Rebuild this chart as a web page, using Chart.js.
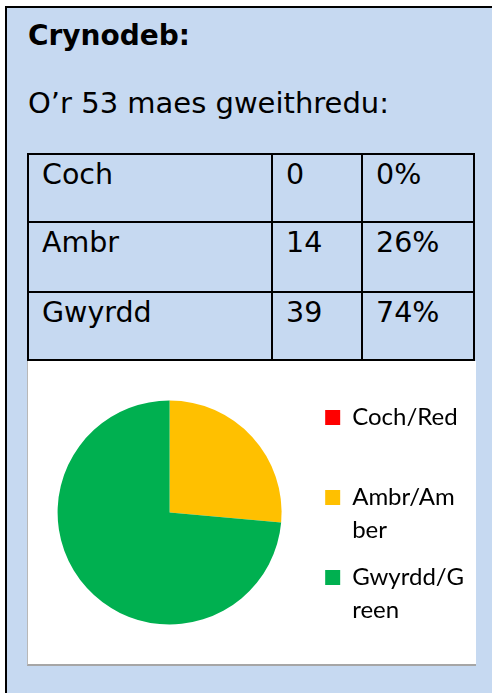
<!DOCTYPE html>
<html>
<head>
<meta charset="utf-8">
<script src="https://cdn.jsdelivr.net/npm/chart.js@4"></script>
<style>
  html, body { margin: 0; padding: 0; background: #fff; overflow: hidden; }
  body { width: 492px; height: 693px; position: relative; font-family: "DejaVu Sans", Verdana, sans-serif; color: #000; }
  .panel { position: absolute; left: 5px; top: 6px; width: 520px; height: 720px; background: #c6d9f1;
           border-top: 2px solid #000; border-left: 2px solid #000; }
  .title { position: absolute; left: 28px; top: 22px; font-size: 28px; font-weight: bold; line-height: 1; white-space: nowrap; }
  .intro { position: absolute; left: 28px; top: 89px; font-size: 29px; line-height: 1; white-space: nowrap; }
  .cell { position: absolute; box-sizing: border-box; border: 2px solid #000; font-size: 28.5px; line-height: 1;
          white-space: nowrap; padding: 6px 0 0 13px; }
  .chartBox { position: absolute; left: 27px; top: 361px; width: 448px; height: 303px; background: #fff;
              border-left: 1px solid #b8b8b8; border-bottom: 2px solid #a6a6a6; }
</style>
</head>
<body>
<div class="panel"></div>
<div class="title">Crynodeb:</div>
<div class="intro">O’r 53 maes gweithredu:</div>
<div id="summary"></div>
<div class="chartBox"><canvas id="pie" width="448" height="303"></canvas></div>

<script>
// data
const rowNames = ['Coch', 'Ambr', 'Gwyrdd'];
const counts = [0, 14, 39];
const shares = ['0%', '26%', '74%'];
const legendLines = [['Coch/Red', ''], ['Ambr/Am', 'ber'], ['Gwyrdd/G', 'reen']];
const sliceColours = ['#ff0000', '#ffc000', '#00b050'];

// summary table, grid line centres in page pixels
const colX = [28, 272, 362, 474];
const rowY = [154, 222, 292, 360];
const holder = document.getElementById('summary');
rowNames.forEach((name, i) => {
    [name, String(counts[i]), shares[i]].forEach((txt, j) => {
        const d = document.createElement('div');
        d.className = 'cell';
        d.textContent = txt;
        d.style.left = (colX[j] - 1) + 'px';
        d.style.top = (rowY[i] - 1) + 'px';
        d.style.width = (colX[j + 1] - colX[j] + 2) + 'px';
        d.style.height = (rowY[i + 1] - rowY[i] + 2) + 'px';
        holder.appendChild(d);
    });
});

// pie chart
new Chart(document.getElementById('pie'), {
    type: 'pie',
    data: {
        labels: legendLines,
        datasets: [{
            data: counts,
            backgroundColor: sliceColours,
            borderWidth: 0,
            radius: 112
        }]
    },
    options: {
        responsive: false,
        animation: false,
        layout: { padding: { left: 0, right: 2, top: 0, bottom: 0 } },
        plugins: {
            tooltip: { enabled: false },
            legend: {
                position: 'right',
                align: 'center',
                // blank title only nudges the entries down a little
                title: { display: true, text: ' ', font: { size: 10, lineHeight: 1.2 }, padding: 0 },
                labels: {
                    boxWidth: 15,
                    boxHeight: 15,
                    padding: 14,
                    color: '#000',
                    font: { family: 'Lato', size: 24, lineHeight: 1.375 }
                }
            }
        }
    }
});
</script>
</body>
</html>
